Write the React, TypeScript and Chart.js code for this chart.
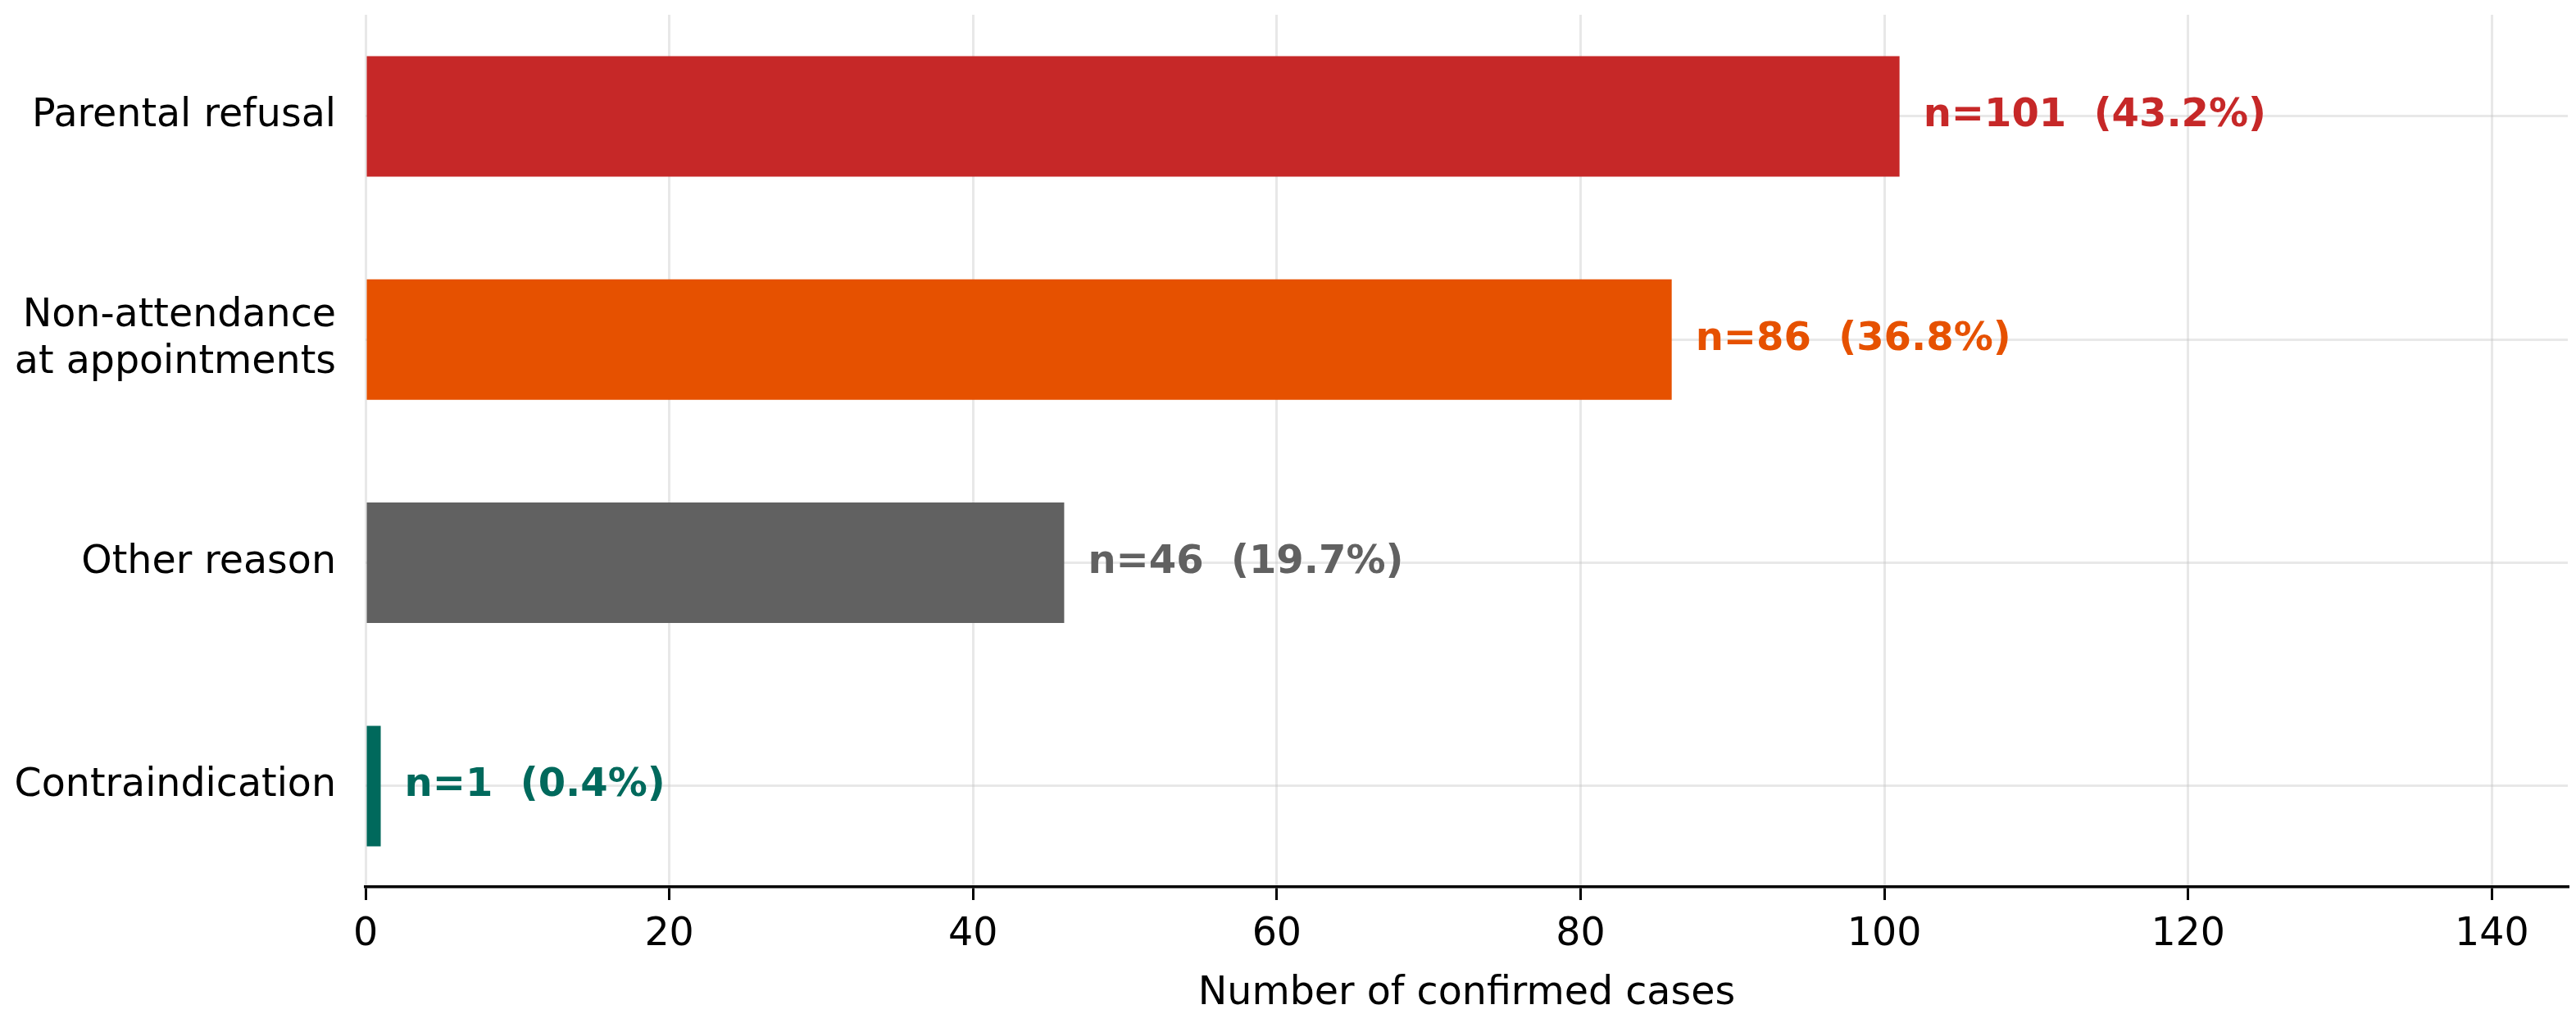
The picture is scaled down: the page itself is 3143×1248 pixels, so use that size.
import { useEffect, useRef } from 'react';
import { Chart, registerables } from 'chart.js';

Chart.register(...registerables);

const categories = [
  'Parental refusal',
  ['Non-attendance', 'at appointments'],
  'Other reason',
  'Contraindication',
];
const counts = [101, 86, 46, 1];
const percents = ['43.2', '36.8', '19.7', '0.4'];
const barColors = ['#C62828', '#E65100', '#616161', '#00695C'];
const xTicks = [0, 20, 40, 60, 80, 100, 120, 140];

const W = 3143;
const H = 1248;
const FONT = "'DejaVu Sans', sans-serif";

// n=.. (..%) labels to the right of each bar
const valueLabels = {
  id: 'valueLabels',
  afterDraw(chart: any) {
    const ctx = chart.ctx;
    const meta = chart.getDatasetMeta(0);
    ctx.save();
    ctx.font = `bold 48px ${FONT}`;
    ctx.textAlign = 'left';
    ctx.textBaseline = 'middle';
    meta.data.forEach((bar: any, i: number) => {
      ctx.fillStyle = barColors[i];
      ctx.fillText(`n=${counts[i]}  (${percents[i]}%)`, bar.x + 29, bar.y);
    });
    ctx.restore();
  },
};

export default function App() {
  const chartRef = useRef<HTMLCanvasElement>(null);

  useEffect(() => {
    if (!chartRef.current) return;
    document.body.style.margin = '0';
    Chart.defaults.font.family = FONT;
    Chart.defaults.color = '#000';

    const chart = new Chart(chartRef.current, {
      type: 'bar',
      data: {
        datasets: [{
          data: counts.map((c, i) => ({ x: c, y: i })),
          backgroundColor: barColors,
          barPercentage: 0.54,
          categoryPercentage: 1,
        }],
      },
      options: {
        indexAxis: 'y',
        responsive: false,
        animation: false,
        devicePixelRatio: 1,
        layout: { padding: { top: 18, right: 10, left: 0, bottom: 0 } },
        plugins: {
          legend: { display: false },
          tooltip: { enabled: false },
        },
        scales: {
          x: {
            type: 'linear',
            min: 0,
            max: 145,
            z: 1,
            afterBuildTicks: (scale: any) => {
              scale.ticks = xTicks.map((v) => ({ value: v }));
            },
            afterFit: (scale: any) => {
              scale.height = H - 1082;
              scale.paddingLeft = 0;
              scale.paddingRight = 0;
            },
            grid: {
              color: 'rgba(200,200,200,0.42)',
              lineWidth: 3,
              drawTicks: true,
              tickLength: 16,
              tickColor: '#000',
              tickWidth: 3,
            },
            border: { display: true, color: '#000', width: 3.5 },
            ticks: {
              padding: 14,
              font: { size: 47.5 },
              color: '#000',
              maxRotation: 0,
            },
            title: {
              display: true,
              text: 'Number of confirmed cases',
              font: { size: 47.5 },
              color: '#000',
              padding: { top: 0, bottom: 7 },
            },
          },
          y: {
            type: 'linear',
            reverse: true,
            min: -0.455,
            max: 3.452,
            offset: false,
            z: 1,
            afterBuildTicks: (scale: any) => {
              scale.ticks = categories.map((_, i) => ({ value: i }));
            },
            afterFit: (scale: any) => {
              scale.width = 446;
              scale.paddingTop = 0;
              scale.paddingBottom = 0;
            },
            grid: {
              color: 'rgba(200,200,200,0.42)',
              lineWidth: 3,
              offset: false,
              drawTicks: false,
              tickLength: 0,
            },
            border: { display: false },
            ticks: {
              padding: 36,
              font: { size: 47.5, lineHeight: 1.2 },
              color: '#000',
              callback: (v: any) => categories[v as number],
            },
          },
        },
      },
      plugins: [valueLabels],
    });

    return () => chart.destroy();
  }, []);

  return (
    <div style={{ width: W, height: H, background: '#fff' }}>
      <canvas ref={chartRef} width={W} height={H} style={{ display: 'block' }} />
    </div>
  );
}
